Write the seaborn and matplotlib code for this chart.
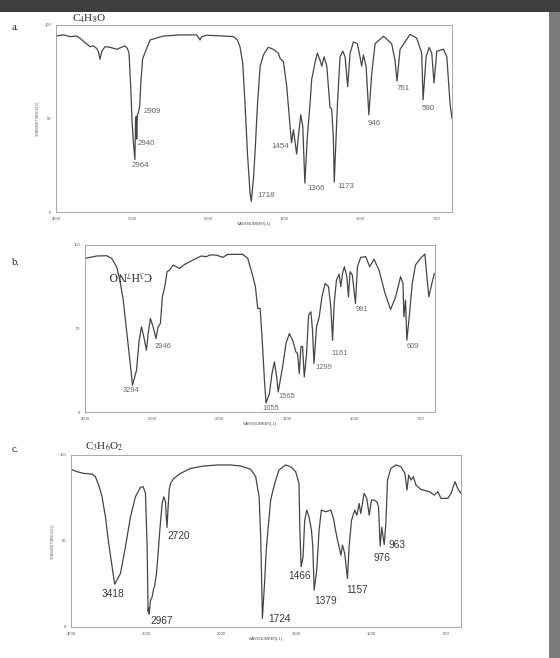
import numpy as np
import pandas as pd
import matplotlib
matplotlib.use("Agg")
import matplotlib.pyplot as plt
from matplotlib.ticker import FixedLocator, FixedFormatter
from matplotlib.patches import Rectangle
import seaborn as sns

# ---------------- data ----------------
a_wn = [4000, 3904, 3816, 3729, 3685, 3619, 3553, 3510, 3466, 3444, 3422, 3400, 3356, 3291, 3203,
        3138, 3094, 3063, 3041, 3019, 3002, 2985, 2964, 2955, 2948, 2940, 2932, 2920, 2909, 2900,
        2885, 2862, 2809, 2765, 2590, 2371, 2152, 2131, 2109, 2087, 2021, 1945, 1835, 1809, 1792,
        1774, 1759, 1743, 1726, 1718, 1704, 1691, 1678, 1660, 1638, 1606, 1573, 1540, 1529, 1507,
        1485, 1454, 1441, 1420, 1409, 1393, 1380, 1366, 1350, 1332, 1321, 1299, 1284, 1266, 1255,
        1240, 1222, 1201, 1190, 1179, 1173, 1152, 1135, 1117, 1102, 1085, 1069, 1047, 1021, 1004,
        993, 982, 964, 946, 927, 905, 850, 796, 774, 761, 741, 675, 632, 599, 590,
        570, 550, 533, 518, 500, 456, 434, 413, 400]
a_T = [94.1, 94.7, 93.8, 94.1, 92.9, 90.6, 88.4, 88.8, 87.5, 85.8, 81.7, 85.8, 88.4, 88.1, 87.0,
       88.1, 88.8, 87.5, 84.9, 67, 49, 38, 28, 50, 51, 39, 52, 53, 55, 57,
       70, 82, 87.5, 92, 94.1, 94.7, 94.7, 93.4, 92.0, 93.8, 94.5, 94.3, 93.8, 92.0, 88.4,
       79.5, 58.2, 31.5, 10.1, 5.7, 17.3, 35, 56.4, 77.8, 84, 88.1, 87, 84.9, 82.2, 80.4,
       67, 37, 44, 31, 40, 52, 46, 15.5, 40, 58, 71, 80, 85, 81, 78,
       83, 78, 56, 55, 40, 16, 58, 83, 86, 83, 67, 85, 91, 90, 83,
       78, 84, 78, 52, 74, 90, 94, 90, 81, 70, 87, 95, 93, 85, 60,
       83, 88, 85, 69, 86, 87, 83, 58, 50]

b_wn = [4000, 3827, 3679, 3605, 3531, 3482, 3432, 3383, 3334, 3294, 3235, 3195, 3161, 3126, 3087,
        3062, 3028, 2988, 2946, 2914, 2880, 2850, 2815, 2781, 2741, 2692, 2643, 2593, 2534, 2445,
        2346, 2272, 2198, 2149, 2050, 1976, 1939, 1877, 1828, 1791, 1759, 1734, 1717, 1699, 1685,
        1667, 1655, 1630, 1611, 1593, 1576, 1565, 1532, 1507, 1482, 1458, 1433, 1421, 1408, 1396,
        1384, 1371, 1354, 1339, 1322, 1310, 1299, 1280, 1260, 1240, 1216, 1191, 1174, 1161, 1149,
        1132, 1112, 1100, 1087, 1073, 1055, 1043, 1031, 1014, 991, 976, 952, 915, 885, 853,
        816, 771, 730, 692, 656, 638, 631, 619, 609, 589, 569, 545, 508, 475, 458,
        446, 426, 405]
b_T = [92, 93.4, 93.6, 92, 87, 79, 67, 49, 31, 16, 25, 43, 51, 45, 37,
       47, 56, 51, 44, 51, 53, 69, 75, 84, 85, 88, 87, 86, 88, 90,
       92, 93.4, 93, 94, 94, 92.6, 94.4, 94.4, 94.4, 92, 83, 75, 62, 62, 45,
       19, 5.4, 11, 23, 30, 21, 12, 27, 41, 47, 43, 36, 35, 23, 39,
       39.4, 21, 35, 58, 60, 49, 29, 51, 57, 69, 77, 75, 63, 43, 65,
       79, 82.6, 75, 83, 87, 81, 69, 84, 82, 65, 87, 92.6, 93, 87, 91.4,
       85, 71, 61.4, 69, 81, 77, 57, 67, 43, 59, 77, 88, 92, 94.6, 79,
       69, 76, 83]

c_wn = [4000, 3920, 3831, 3719, 3675, 3630, 3586, 3541, 3497, 3452, 3418, 3341, 3274, 3207, 3141,
        3074, 3038, 3007, 2985, 2972, 2965, 2957, 2940, 2918, 2900, 2887, 2860, 2842, 2816, 2785,
        2762, 2740, 2730, 2720, 2705, 2690, 2673, 2629, 2540, 2406, 2228, 2050, 1936, 1869, 1802,
        1769, 1746, 1735, 1724, 1710, 1698, 1687, 1669, 1642, 1613, 1569, 1535, 1502, 1480, 1474,
        1466, 1453, 1442, 1428, 1413, 1397, 1388, 1379, 1362, 1346, 1331, 1302, 1268, 1250, 1228,
        1213, 1201, 1190, 1175, 1157, 1146, 1130, 1108, 1094, 1079, 1068, 1046, 1028, 1012, 997,
        979, 961, 950, 939, 928, 912, 901, 890, 868, 834, 800, 774, 760, 749, 733,
        718, 700, 667, 611, 577, 555, 533, 488, 466, 440, 422, 400]
c_T = [91.7, 90.3, 89.3, 88.9, 87.4, 82.5, 75.7, 64.1, 48.5, 35, 24.9, 31, 46.6, 64, 75.7,
       81.2, 81.6, 77.7, 46.6, 9, 11, 7.5, 15.5, 17.5, 22, 23.3, 31, 40.8, 56.3, 71.8,
       75.7, 72.8, 64, 57.9, 70, 80, 83.5, 86.4, 89.3, 92.2, 93.6, 94.2, 94.2, 93.6, 91.7,
       87.4, 75.7, 52, 5, 25, 45, 56.3, 73.8, 83.5, 91.3, 94.2, 93.2, 90.3, 83.5, 56,
       35, 40.8, 62, 68, 64, 56.3, 46.6, 21.4, 33, 56.3, 68, 67, 68, 63, 52.4,
       46.6, 41.7, 47.6, 42.7, 28.2, 46.6, 62, 68, 65, 71.8, 66, 77.7, 74.8, 65, 73.8,
       73.8, 72.8, 70, 47, 58, 48, 60, 85.4, 92.2, 94.2, 93.2, 89.3, 79.6, 88.3, 85.4,
       87.4, 82.5, 80, 78.6, 76.7, 78.6, 74.8, 74.8, 77.7, 84.5, 80.6, 77.7]

a_labels = ["2909", "2940", "2964", "1718", "1454", "1366", "1173", "946", "761", "590"]
a_label_wn = [2844, 2932, 3006, 1678, 1468, 1349, 1152, 953, 763, 599]
a_label_T = [53.7, 36.8, 24.9, 8.9, 35, 12.3, 13.7, 47.2, 65.8, 55.5]

b_labels = ["3294", "2946", "1655", "1565", "1299", "1161", "991", "609"]
b_label_wn = [3442, 2963, 1680, 1561, 1290, 1166, 989, 611]
b_label_T = [13, 39, 2, 9, 26.6, 35, 61.4, 39]

c_labels = ["3418", "2967", "2720", "1724", "1466", "1379", "1157", "976", "963"]
c_label_wn = [3595, 2940, 2709, 1684, 1553, 1379, 1168, 983, 883]
c_label_T = [19.4, 3.5, 52.8, 4.9, 29.5, 15.1, 21.7, 40.4, 47.6]

titles = [r"C$_4$H$_8$O", r"C$_3$H$_7$NO", r"C$_3$H$_6$O$_2$"]
panel_letters = ["a.", "b.", "c."]
x_major = [4000, 3000, 2000, 1500, 1000, 500]
x_major_labels = ["4000", "3000", "2000", "1500", "1000", "500"]
y_major = [0, 50, 100]

# ---------------- style ----------------
sns.set_style("white")
plt.rcParams['font.family'] = ['Liberation Sans', 'DejaVu Sans']
plt.rcParams['mathtext.fontset'] = 'stix'

W, H = 560, 658
fig = plt.figure(figsize=(W / 100, H / 100), dpi=100)
fig.patch.set_facecolor('white')

# window chrome
fig.patches.append(Rectangle((0, 1 - 12 / H), 1, 12 / H, transform=fig.transFigure,
                             facecolor='#3e3e3e', edgecolor='none', zorder=0))
fig.patches.append(Rectangle((549 / W, 0), 11 / W, 1 - 12 / H, transform=fig.transFigure,
                             facecolor='#7c7c7c', edgecolor='none', zorder=0))


def fwd(w):
    w = np.asarray(w, dtype=float)
    return np.where(w >= 2000, (4000 - w) / 1000.0, 2 + (2000 - w) / 500.0)


def inv(u):
    u = np.asarray(u, dtype=float)
    return np.where(u <= 2, 4000 - 1000.0 * u, 2000 - 500.0 * (u - 2))


def px_axes(l, t, r, b):
    return fig.add_axes([l / W, 1 - b / H, (r - l) / W, (b - t) / H])


def panel(rect, wn, T, labels, lwn, lT, lsize, lcolor, right_aligned=(), ylab=True):
    ax = px_axes(*rect)
    df = pd.DataFrame({'wn': wn, 'T': T})
    sns.lineplot(data=df, x='wn', y='T', sort=False, estimator=None,
                 color='#464646', lw=0.9, ax=ax)
    ax.set_xscale('function', functions=(fwd, inv))
    ax.set_xlim(400, 4000)
    ax.set_ylim(0, 100)
    ax.xaxis.set_major_locator(FixedLocator(x_major))
    ax.xaxis.set_major_formatter(FixedFormatter(x_major_labels))
    ax.xaxis.set_minor_locator(FixedLocator(list(range(400, 4001, 100))))
    ax.yaxis.set_major_locator(FixedLocator(y_major))
    ax.yaxis.set_minor_locator(FixedLocator(list(range(0, 101, 10))))
    ax.tick_params(which='major', length=2.5, width=0.5, color='#777', labelsize=3,
                   labelcolor='#555', pad=1, direction='out')
    ax.tick_params(which='minor', length=1.5, width=0.4, color='#777', direction='out')
    for s in ax.spines.values():
        s.set_color('#9a9a9a')
        s.set_linewidth(0.6)
    ax.set_xlabel("WAVENUMBER[-1]", fontsize=2.8, color='#555', labelpad=1)
    if ylab:
        ax.set_ylabel("TRANSMITTANCE[%]", fontsize=2.6, color='#666', labelpad=3)
    else:
        ax.set_ylabel("")
    for i, (s, x, y) in enumerate(zip(labels, lwn, lT)):
        ax.text(x, y, s, fontsize=lsize, color=lcolor,
                ha='right' if i in right_aligned else 'left', va='center', clip_on=False)
    return ax


panel((56, 25, 452, 212), a_wn, a_T, a_labels, a_label_wn, a_label_T, 5.7, '#666666',
      right_aligned=(4,))
panel((85, 245, 435, 412), b_wn, b_T, b_labels, b_label_wn, b_label_T, 5.4, '#6a6a6a',
      ylab=False)
panel((71, 455, 461, 627), c_wn, c_T, c_labels, c_label_wn, c_label_T, 7.3, '#3a3a3a')

# titles and panel letters
serif = ['Liberation Serif', 'DejaVu Serif']
fig.text(89 / W, 1 - 19 / H, titles[0], fontsize=8, family=serif, ha='center', va='center',
         color='#222')
fig.text(131 / W, 1 - 275 / H, titles[1], fontsize=8.5, family=serif, ha='center', va='center',
         rotation=180, color='#222')
fig.text(104 / W, 1 - 447 / H, titles[2], fontsize=8, family=serif, ha='center', va='center',
         color='#222')
for s, y in zip(panel_letters, [28, 262, 449]):
    fig.text(12 / W, 1 - y / H, s, fontsize=7.5, family=serif, ha='left', va='center',
             color='#222')

fig.savefig("out.png", dpi=100, facecolor='white')
